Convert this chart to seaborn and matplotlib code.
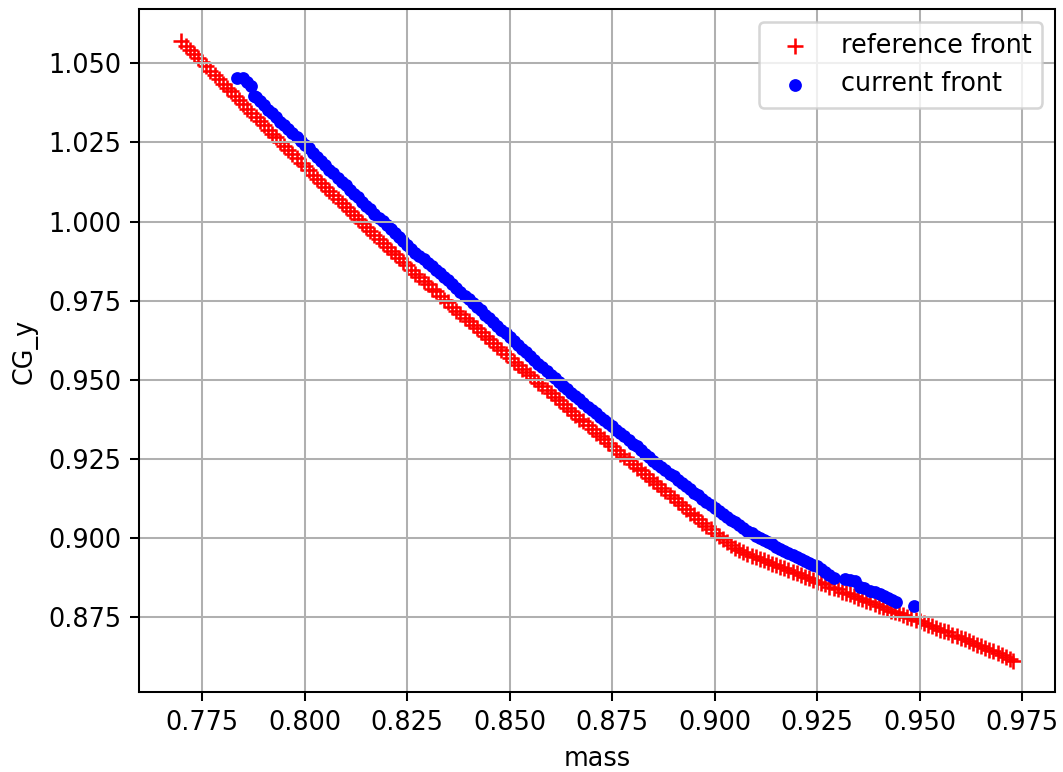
import matplotlib
matplotlib.use("Agg")
import matplotlib.pyplot as plt
import seaborn as sns
import pandas as pd

# reference front (mass, CG_y)
ref_mass = [
    0.7698, 0.7710, 0.7720, 0.7730, 0.7740, 0.7750, 0.7760, 0.7770, 0.7780, 0.7790,
    0.7800, 0.7810, 0.7820, 0.7830, 0.7840, 0.7850, 0.7860, 0.7870, 0.7880, 0.7890,
    0.7900, 0.7910, 0.7920, 0.7930, 0.7940, 0.7950, 0.7960, 0.7970, 0.7980, 0.7990,
    0.8000, 0.8010, 0.8020, 0.8030, 0.8040, 0.8050, 0.8060, 0.8070, 0.8080, 0.8090,
    0.8100, 0.8110, 0.8120, 0.8130, 0.8140, 0.8150, 0.8160, 0.8170, 0.8180, 0.8190,
    0.8200, 0.8210, 0.8220, 0.8230, 0.8240, 0.8250, 0.8260, 0.8270, 0.8280, 0.8290,
    0.8300, 0.8310, 0.8320, 0.8330, 0.8340, 0.8350, 0.8360, 0.8370, 0.8380, 0.8390,
    0.8400, 0.8410, 0.8420, 0.8430, 0.8440, 0.8450, 0.8460, 0.8470, 0.8480, 0.8490,
    0.8500, 0.8510, 0.8520, 0.8530, 0.8540, 0.8550, 0.8560, 0.8570, 0.8580, 0.8590,
    0.8600, 0.8610, 0.8620, 0.8630, 0.8640, 0.8650, 0.8660, 0.8670, 0.8680, 0.8690,
    0.8700, 0.8710, 0.8720, 0.8730, 0.8740, 0.8750, 0.8760, 0.8770, 0.8780, 0.8790,
    0.8800, 0.8810, 0.8820, 0.8830, 0.8840, 0.8850, 0.8860, 0.8870, 0.8880, 0.8890,
    0.8900, 0.8910, 0.8920, 0.8930, 0.8940, 0.8950, 0.8960, 0.8970, 0.8980, 0.8990,
    0.9000, 0.9010, 0.9020, 0.9030, 0.9040, 0.9050, 0.9060, 0.9070, 0.9080, 0.9090,
    0.9100, 0.9110, 0.9120, 0.9130, 0.9140, 0.9150, 0.9160, 0.9170, 0.9180, 0.9190,
    0.9200, 0.9210, 0.9220, 0.9230, 0.9240, 0.9250, 0.9260, 0.9270, 0.9280, 0.9290,
    0.9300, 0.9310, 0.9320, 0.9330, 0.9340, 0.9350, 0.9360, 0.9370, 0.9380, 0.9390,
    0.9400, 0.9410, 0.9420, 0.9430, 0.9440, 0.9450, 0.9460, 0.9470, 0.9480, 0.9490,
    0.9500, 0.9510, 0.9520, 0.9530, 0.9540, 0.9550, 0.9560, 0.9570, 0.9580, 0.9590,
    0.9600, 0.9610, 0.9620, 0.9630, 0.9640, 0.9650, 0.9660, 0.9670, 0.9680, 0.9690,
    0.9700, 0.9710, 0.9720, 0.9728,
]
ref_cgy = [
    1.0572, 1.0556, 1.0543, 1.0529, 1.0517, 1.0503, 1.0490, 1.0475, 1.0463, 1.0451,
    1.0436, 1.0423, 1.0411, 1.0396, 1.0383, 1.0371, 1.0357, 1.0342, 1.0330, 1.0318,
    1.0304, 1.0290, 1.0278, 1.0266, 1.0252, 1.0238, 1.0226, 1.0214, 1.0200, 1.0186,
    1.0174, 1.0162, 1.0148, 1.0134, 1.0122, 1.0110, 1.0096, 1.0083, 1.0071, 1.0059,
    1.0045, 1.0032, 1.0021, 1.0007, 0.9994, 0.9983, 0.9970, 0.9956, 0.9945, 0.9933,
    0.9920, 0.9907, 0.9897, 0.9884, 0.9871, 0.9861, 0.9848, 0.9835, 0.9826, 0.9813,
    0.9801, 0.9788, 0.9779, 0.9766, 0.9753, 0.9744, 0.9731, 0.9718, 0.9709, 0.9696,
    0.9684, 0.9672, 0.9662, 0.9650, 0.9637, 0.9628, 0.9615, 0.9603, 0.9593, 0.9580,
    0.9569, 0.9557, 0.9548, 0.9535, 0.9523, 0.9514, 0.9502, 0.9489, 0.9480, 0.9468,
    0.9457, 0.9444, 0.9435, 0.9423, 0.9411, 0.9401, 0.9389, 0.9377, 0.9368, 0.9356,
    0.9344, 0.9332, 0.9323, 0.9311, 0.9299, 0.9290, 0.9278, 0.9266, 0.9257, 0.9245,
    0.9234, 0.9222, 0.9213, 0.9201, 0.9189, 0.9180, 0.9169, 0.9157, 0.9148, 0.9136,
    0.9125, 0.9113, 0.9104, 0.9092, 0.9080, 0.9071, 0.9060, 0.9048, 0.9039, 0.9027,
    0.9016, 0.9005, 0.8997, 0.8986, 0.8976, 0.8969, 0.8961, 0.8954, 0.8950, 0.8944,
    0.8940, 0.8934, 0.8930, 0.8923, 0.8919, 0.8915, 0.8908, 0.8904, 0.8899, 0.8892,
    0.8888, 0.8884, 0.8877, 0.8872, 0.8868, 0.8861, 0.8857, 0.8853, 0.8846, 0.8841,
    0.8837, 0.8830, 0.8826, 0.8822, 0.8815, 0.8811, 0.8807, 0.8800, 0.8796, 0.8791,
    0.8785, 0.8781, 0.8776, 0.8770, 0.8766, 0.8761, 0.8755, 0.8751, 0.8746, 0.8740,
    0.8736, 0.8731, 0.8725, 0.8721, 0.8716, 0.8710, 0.8706, 0.8701, 0.8694, 0.8690,
    0.8685, 0.8679, 0.8674, 0.8669, 0.8662, 0.8658, 0.8652, 0.8646, 0.8641, 0.8636,
    0.8629, 0.8624, 0.8618, 0.8610,
]

# current front (mass, CG_y)
cur_mass = [
    0.7835, 0.7850, 0.7860, 0.7868, 0.7876, 0.7880, 0.7890, 0.7900, 0.7910, 0.7920,
    0.7930, 0.7940, 0.7950, 0.7960, 0.7970, 0.7980, 0.7990, 0.8000, 0.8010, 0.8020,
    0.8030, 0.8040, 0.8050, 0.8060, 0.8070, 0.8080, 0.8090, 0.8100, 0.8110, 0.8120,
    0.8130, 0.8140, 0.8150, 0.8160, 0.8170, 0.8180, 0.8190, 0.8200, 0.8210, 0.8220,
    0.8230, 0.8240, 0.8250, 0.8260, 0.8270, 0.8280, 0.8290, 0.8300, 0.8310, 0.8320,
    0.8330, 0.8340, 0.8350, 0.8360, 0.8370, 0.8380, 0.8390, 0.8400, 0.8410, 0.8420,
    0.8430, 0.8440, 0.8450, 0.8460, 0.8470, 0.8480, 0.8490, 0.8500, 0.8510, 0.8520,
    0.8530, 0.8540, 0.8550, 0.8560, 0.8570, 0.8580, 0.8590, 0.8600, 0.8610, 0.8620,
    0.8630, 0.8640, 0.8650, 0.8660, 0.8670, 0.8680, 0.8690, 0.8700, 0.8710, 0.8720,
    0.8730, 0.8740, 0.8750, 0.8760, 0.8770, 0.8780, 0.8790, 0.8800, 0.8810, 0.8820,
    0.8830, 0.8840, 0.8850, 0.8860, 0.8870, 0.8880, 0.8890, 0.8900, 0.8910, 0.8920,
    0.8930, 0.8940, 0.8950, 0.8960, 0.8970, 0.8980, 0.8990, 0.9000, 0.9010, 0.9020,
    0.9030, 0.9040, 0.9050, 0.9060, 0.9070, 0.9080, 0.9090, 0.9100, 0.9110, 0.9120,
    0.9130, 0.9140, 0.9150, 0.9160, 0.9170, 0.9180, 0.9190, 0.9200, 0.9210, 0.9220,
    0.9230, 0.9240, 0.9250, 0.9260, 0.9270, 0.9280, 0.9290, 0.9318, 0.9330, 0.9342,
    0.9354, 0.9365, 0.9379, 0.9390, 0.9403, 0.9413, 0.9423, 0.9433, 0.9443, 0.9487,
]
cur_cgy = [
    1.0455, 1.0453, 1.0440, 1.0427, 1.0398, 1.0392, 1.0381, 1.0367, 1.0354, 1.0343,
    1.0329, 1.0316, 1.0306, 1.0292, 1.0279, 1.0268, 1.0254, 1.0242, 1.0231, 1.0216,
    1.0203, 1.0192, 1.0178, 1.0164, 1.0153, 1.0138, 1.0126, 1.0114, 1.0100, 1.0088,
    1.0076, 1.0062, 1.0050, 1.0038, 1.0024, 1.0012, 1.0001, 0.9988, 0.9975, 0.9964,
    0.9950, 0.9938, 0.9927, 0.9914, 0.9902, 0.9892, 0.9880, 0.9869, 0.9859, 0.9847,
    0.9836, 0.9826, 0.9814, 0.9801, 0.9791, 0.9778, 0.9765, 0.9755, 0.9742, 0.9729,
    0.9719, 0.9706, 0.9694, 0.9683, 0.9670, 0.9658, 0.9647, 0.9634, 0.9621, 0.9611,
    0.9598, 0.9586, 0.9575, 0.9562, 0.9550, 0.9539, 0.9526, 0.9514, 0.9504, 0.9492,
    0.9481, 0.9471, 0.9459, 0.9447, 0.9438, 0.9426, 0.9414, 0.9405, 0.9394, 0.9383,
    0.9374, 0.9364, 0.9354, 0.9342, 0.9332, 0.9322, 0.9310, 0.9298, 0.9289, 0.9277,
    0.9265, 0.9256, 0.9244, 0.9234, 0.9225, 0.9214, 0.9203, 0.9195, 0.9184, 0.9173,
    0.9165, 0.9154, 0.9143, 0.9135, 0.9124, 0.9113, 0.9105, 0.9094, 0.9084, 0.9077,
    0.9067, 0.9057, 0.9050, 0.9040, 0.9030, 0.9023, 0.9014, 0.9007, 0.9001, 0.8993,
    0.8986, 0.8980, 0.8972, 0.8965, 0.8959, 0.8951, 0.8946, 0.8940, 0.8933, 0.8928,
    0.8921, 0.8915, 0.8910, 0.8901, 0.8892, 0.8883, 0.8874, 0.8870, 0.8868, 0.8864,
    0.8845, 0.8840, 0.8833, 0.8828, 0.8822, 0.8816, 0.8810, 0.8803, 0.8797, 0.8785,
]

ref_df = pd.DataFrame({"mass": ref_mass, "CG_y": ref_cgy})
cur_df = pd.DataFrame({"mass": cur_mass, "CG_y": cur_cgy})

DPI = 184
fig = plt.figure(figsize=(1063 / DPI, 772 / DPI), dpi=DPI)
ax = fig.add_axes([139.3 / 1063, (772 - 692.3) / 772,
                   (1054.7 - 139.3) / 1063, (692.3 - 9.5) / 772])

sns.scatterplot(data=ref_df, x="mass", y="CG_y", ax=ax, color="red",
                marker="+", s=42, linewidth=1.0, label="reference front")
sns.scatterplot(data=cur_df, x="mass", y="CG_y", ax=ax, color="blue",
                marker="o", s=25, linewidth=0, label="current front")

ax.set_xlabel("mass")
ax.set_ylabel("CG_y")
ax.grid(True)
ax.legend(loc="upper right")

fig.savefig("out.png", dpi=DPI)
